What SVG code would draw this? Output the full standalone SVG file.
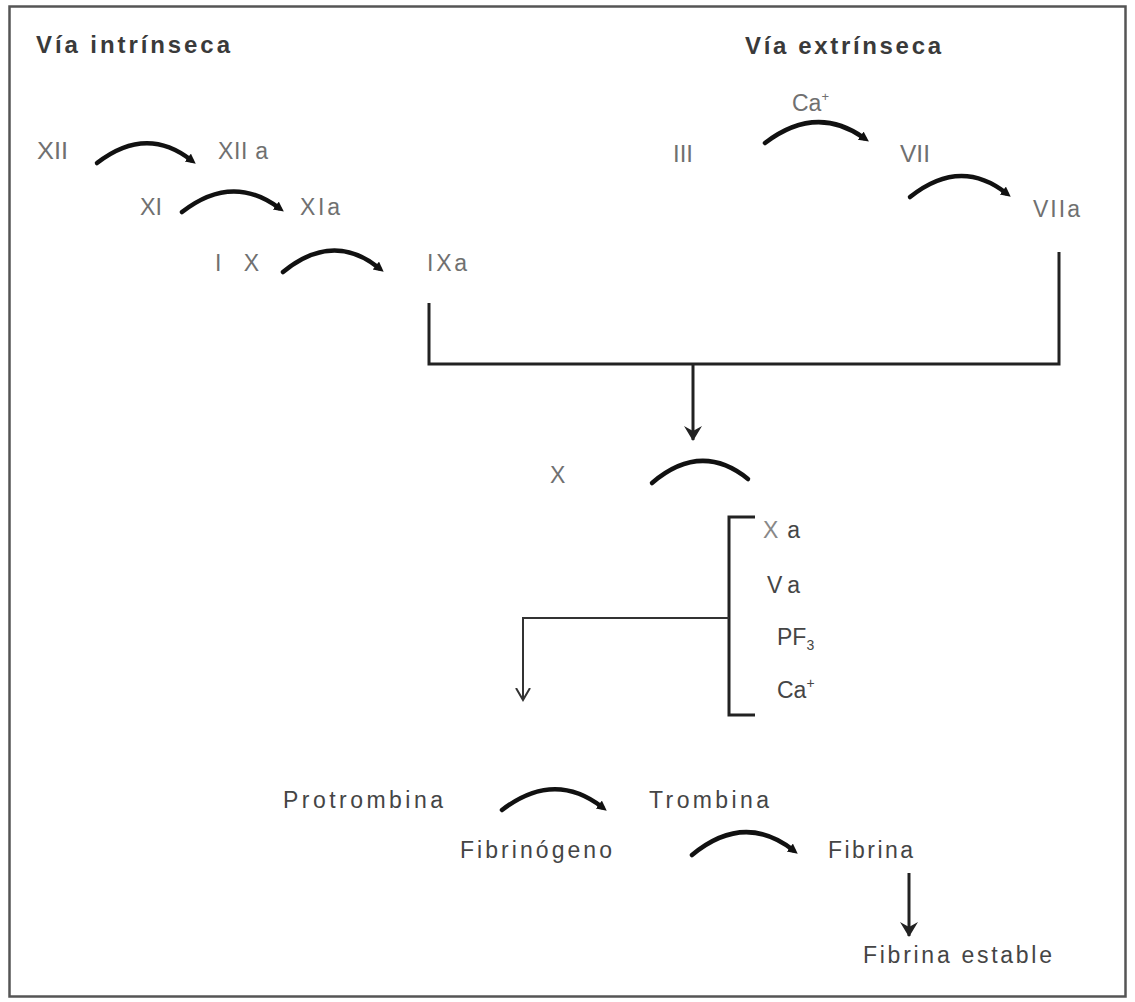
<svg xmlns="http://www.w3.org/2000/svg" width="1135" height="1002" viewBox="0 0 1135 1002">
<defs>
<style>
.h{font-family:"Liberation Sans",Arial,sans-serif;font-size:24px;font-weight:bold;fill:#3a3a3a}
.r{font-family:"Liberation Sans",Arial,sans-serif;font-size:23px;fill:#707070}
.d{font-family:"Liberation Sans",Arial,sans-serif;font-size:23px;fill:#454545}
.arc{fill:none;stroke:#111;stroke-width:4.5;stroke-linecap:round}
.ln{fill:none;stroke:#222;stroke-width:3}
.lnt{fill:none;stroke:#333;stroke-width:2}
</style>
<marker id="ah" markerUnits="userSpaceOnUse" markerWidth="12" markerHeight="12" refX="4" refY="5" orient="auto">
<path d="M0,0 L10,5 L0,10 z" fill="#111"/>
</marker>
<marker id="down" markerUnits="userSpaceOnUse" markerWidth="20" markerHeight="20" refX="14" refY="9" orient="auto">
<path d="M0,0 L15,9 L0,18 L5,9 z" fill="#222"/>
</marker>
<marker id="open" markerUnits="userSpaceOnUse" markerWidth="20" markerHeight="20" refX="12" refY="8" orient="auto">
<path d="M0,1 L12,8 L0,15" fill="none" stroke="#333" stroke-width="2"/>
</marker>
</defs>
<rect x="0" y="0" width="1135" height="1002" fill="#fff"/>
<rect x="9.5" y="6.5" width="1116" height="990" fill="#fff" stroke="#555" stroke-width="2.5"/>

<g id="titulo-intrinseca"><text class="h" x="36" y="53" textLength="194" lengthAdjust="spacing">Vía intrínseca</text></g>
<g id="titulo-extrinseca"><text class="h" x="745" y="54" textLength="196" lengthAdjust="spacing">Vía extrínseca</text></g>

<g id="n-XII"><text class="r" x="37" y="159" textLength="31" lengthAdjust="spacingAndGlyphs">XII</text></g>
<g id="n-XIIa"><text class="r" x="218" y="159" textLength="50" lengthAdjust="spacing">XII a</text></g>
<g id="n-XI"><text class="r" x="140" y="215" textLength="22" lengthAdjust="spacingAndGlyphs">XI</text></g>
<g id="n-XIa"><text class="r" x="300" y="215" textLength="40" lengthAdjust="spacing">XIa</text></g>
<g id="n-IX"><text class="r" x="215" y="271" textLength="44" lengthAdjust="spacing">I X</text></g>
<g id="n-IXa"><text class="r" x="427" y="271" textLength="40" lengthAdjust="spacing">IXa</text></g>

<g id="n-Ca1"><text class="r" x="792" y="111">Ca<tspan font-size="13" dy="-10">+</tspan></text></g>
<g id="n-III"><text class="r" x="673" y="162" textLength="20" lengthAdjust="spacingAndGlyphs">III</text></g>
<g id="n-VII"><text class="r" x="900" y="162" textLength="30" lengthAdjust="spacingAndGlyphs">VII</text></g>
<g id="n-VIIa"><text class="r" x="1033" y="217" textLength="47" lengthAdjust="spacing">VIIa</text></g>

<g id="n-X"><text class="r" x="550" y="483">X</text></g>
<g id="n-Xa"><text class="d" x="763" y="538" textLength="37" lengthAdjust="spacing"><tspan fill="#888">X</tspan>a</text></g>
<g id="n-Va"><text class="d" x="767" y="593" textLength="33" lengthAdjust="spacing">Va</text></g>
<g id="n-PF3"><text class="d" x="777" y="645">PF<tspan font-size="14" dy="5">3</tspan></text></g>
<g id="n-Ca2"><text class="d" x="777" y="698">Ca<tspan font-size="14" dy="-10">+</tspan></text></g>

<g id="n-Protrombina"><text class="d" x="283" y="808" textLength="160" lengthAdjust="spacing">Protrombina</text></g>
<g id="n-Trombina"><text class="d" x="649" y="808" textLength="120" lengthAdjust="spacing">Trombina</text></g>
<g id="n-Fibrinogeno"><text class="d" x="460" y="858" textLength="152" lengthAdjust="spacing">Fibrinógeno</text></g>
<g id="n-Fibrina"><text class="d" x="828" y="858" textLength="85" lengthAdjust="spacing">Fibrina</text></g>
<g id="n-FibrinaEstable"><text class="d" x="863" y="963" textLength="189" lengthAdjust="spacing">Fibrina estable</text></g>

<g id="connectors">
<path class="arc" d="M97,163 Q146,125 191,160" marker-end="url(#ah)"/>
<path class="arc" d="M182,212 Q232,173 279,208" marker-end="url(#ah)"/>
<path class="arc" d="M283,272 Q333,231 379,268" marker-end="url(#ah)"/>
<path class="arc" d="M765,143 Q816,104 864,138" marker-end="url(#ah)"/>
<path class="arc" d="M910,197 Q960,157 1006,193" marker-end="url(#ah)"/>
<path class="arc" d="M652,483 Q701,441 748,479"/>
<path class="arc" d="M502,810 Q554,770 602,807" marker-end="url(#ah)"/>
<path class="arc" d="M692,855 Q744,812 793,850" marker-end="url(#ah)"/>

<path class="ln" d="M429,303 L429,364 L1059,364 L1059,252"/>
<path class="ln" d="M693,364 L693,440" marker-end="url(#down)"/>
<path class="ln" d="M755,517 L729,517 L729,715 L755,715"/>
<path class="lnt" d="M729,618 L523,618 L523,700" marker-end="url(#open)"/>
<path class="ln" d="M909,873 L909,936" marker-end="url(#down)"/>
</g>
</svg>
